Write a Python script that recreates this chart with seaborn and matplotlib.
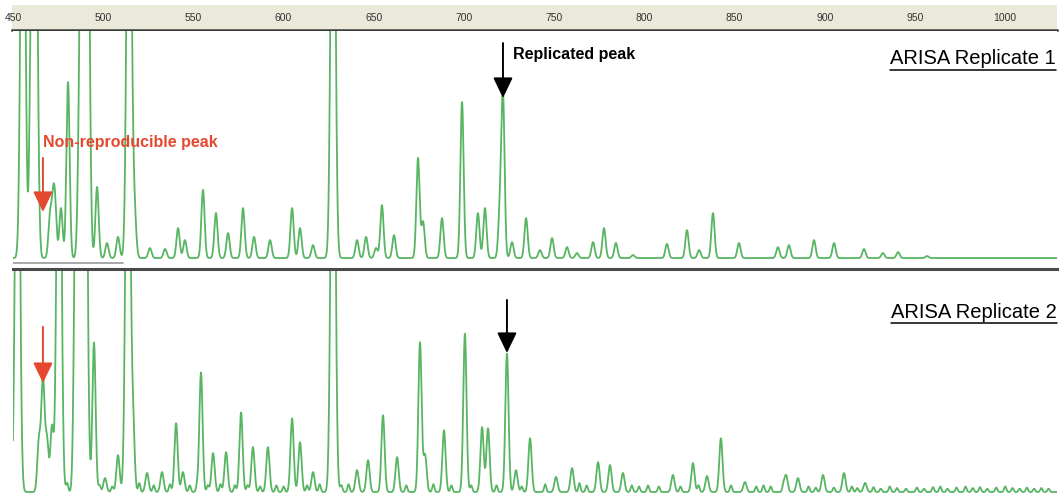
import numpy as np
import pandas as pd
import matplotlib
matplotlib.use("Agg")
import matplotlib.pyplot as plt
import seaborn as sns
from matplotlib.lines import Line2D

# fragment sizes (bp) and peak heights
# heights: 1000 = top of the panel, anything above is off scale
rep1_size = [455.5, 460.0, 462.2, 470.5, 472.2, 473.3, 476.6, 480.5, 486.6, 487.7,
             488.8, 491.0, 496.6, 502.1, 508.2, 514.3, 516.5, 517.6, 525.9, 534.3,
             541.5, 545.3, 555.3, 562.5, 569.2, 577.5, 583.6, 592.5, 604.7, 609.1,
             616.3, 627.4, 640.7, 645.7, 651.2, 654.5, 661.2, 674.5, 677.3, 687.8,
             698.9, 707.7, 711.6, 719.9, 721.6, 726.6, 734.4, 742.1, 748.8, 757.1,
             762.6, 771.5, 777.6, 784.2, 793.7, 812.5, 823.6, 830.3, 838.0, 852.4,
             874.0, 880.1, 894.0, 905.1, 921.7, 932.2, 940.6, 956.6]
rep1_height = [2500, 840, 2500, 176, 189, 198, 220, 775, 322, 256,
               2500, 2500, 313, 66, 93, 2500, 159, 132, 44, 40,
               132, 79, 300, 198, 110, 220, 93, 79, 220, 132,
               57, 2500, 79, 93, 44, 233, 101, 440, 159, 176,
               687, 198, 220, 198, 705, 70, 176, 35, 88, 48,
               22, 70, 132, 66, 13, 62, 123, 35, 198, 66,
               48, 57, 79, 66, 40, 22, 26, 9]

rep2_size = [452.5, 464.4, 466.6, 468.8, 471.6, 475.5, 484.4, 486.0, 489.9, 494.9,
             501.0, 508.2, 513.7, 516.5, 524.3, 532.6, 540.4, 544.2, 554.2, 560.9,
             568.1, 576.4, 583.0, 591.3, 604.7, 609.1, 616.3, 627.4, 640.7, 646.8,
             655.1, 662.9, 675.6, 678.4, 688.9, 700.5, 710.0, 713.3, 723.8, 728.8,
             736.6, 751.0, 759.9, 774.3, 780.9, 788.1, 815.8, 826.9, 834.7, 842.4,
             855.7, 878.5, 885.1, 899.0, 910.6, 922.3]
rep2_height = [2500, 234, 505, 234, 293, 2500, 495, 2500, 2500, 676,
               63, 167, 2500, 302, 86, 90, 311, 90, 541, 176,
               180, 360, 203, 203, 333, 225, 90, 2500, 99, 144,
               347, 158, 676, 167, 279, 716, 293, 288, 626, 99,
               243, 68, 108, 135, 122, 86, 77, 131, 72, 243,
               45, 77, 63, 77, 86, 41]

# the small wiggles along the replicate 2 baseline
rep2_minor_size = [480, 498, 505, 520, 528, 537, 548, 552, 558, 565, 573, 580, 587,
                   596, 600, 613, 620, 632, 636, 668, 683, 693, 704, 718, 732, 745,
                   764, 768, 793, 797, 802, 808, 820, 830, 848, 862, 866, 870, 877,
                   891, 895, 905, 915, 918, 927, 931, 936, 940, 945, 951, 955, 960,
                   964, 968, 973, 978, 982, 986, 990, 995, 1000, 1004, 1008, 1012,
                   1016, 1020, 1024]
rep2_minor_height = [40, 30, 25, 40, 30, 35, 30, 25, 30, 35, 30, 30, 25,
                     30, 25, 30, 35, 30, 35, 30, 35, 30, 30, 30, 25, 35,
                     40, 30, 30, 25, 30, 25, 25, 30, 30, 25, 30, 25, 25,
                     25, 20, 20, 25, 18, 22, 15, 25, 18, 15, 20, 15, 22,
                     25, 15, 20, 25, 18, 22, 15, 20, 25, 18, 15, 20,
                     15, 18, 15]

ruler_ticks = [450, 500, 550, 600, 650, 700, 750, 800, 850, 900, 950, 1000]

GREEN = "#58b562"
RED = "#e4492f"
W, H = 1061, 497
X0, X1 = 450, 1028.7


def trace(sizes, heights, grid, width=0.9):
    y = np.zeros_like(grid)
    for s, h in zip(sizes, heights):
        w = width * 1.3 if h > 1000 else width
        y += h * np.exp(-0.5 * ((grid - s) / w) ** 2)
    return y


def box(x0, y0, x1, y1):
    # pixel box (top-left origin) -> figure fraction rect
    return [x0 / W, 1 - y1 / H, (x1 - x0) / W, (y1 - y0) / H]


grid = np.arange(449, 1030, 0.05)
df1 = pd.DataFrame({"size": grid, "rfu": trace(rep1_size, rep1_height, grid)})
df2 = pd.DataFrame({"size": grid,
                    "rfu": trace(rep2_size, rep2_height, grid)
                    + trace(rep2_minor_size, rep2_minor_height, grid, width=0.6)})

sns.set_style("white")
fig = plt.figure(figsize=(W / 100, H / 100), dpi=100)

narrow = ["Liberation Sans Narrow", "Liberation Sans", "DejaVu Sans"]

# ruler on top
axr = fig.add_axes(box(12, 5, 1057, 30))
axr.set_facecolor("#ebe9da")
axr.set_xlim(X0 - 1 / 1.804, X1)
axr.set_ylim(0, 1)
axr.set_yticks([])
axr.set_xticks(ruler_ticks)
axr.set_xticklabels([str(t) for t in ruler_ticks], fontsize=7.5, color="#333333",
                    family=narrow)
axr.tick_params(axis="x", direction="in", length=3, width=1, color="#333333", pad=-12.5)
for s in ["top", "left", "right"]:
    axr.spines[s].set_visible(False)
axr.spines["bottom"].set_color("#3c3c3c")
axr.spines["bottom"].set_linewidth(1.8)

ax1 = fig.add_axes(box(13, 31, 1057, 266))
ax2 = fig.add_axes(box(13, 269, 1057, 497))

sns.lineplot(data=df1, x="size", y="rfu", ax=ax1, color=GREEN, lw=1.3,
             estimator=None, sort=False)
sns.lineplot(data=df2, x="size", y="rfu", ax=ax2, color=GREEN, lw=1.3,
             estimator=None, sort=False)

ax1.set_ylim(-35, 1000)
ax2.set_ylim(-22.6, 1009)
for ax in (ax1, ax2):
    ax.set_xlim(X0, X1)
    ax.set_xticks([])
    ax.set_yticks([])
    ax.set_xlabel("")
    ax.set_ylabel("")
    for s in ["top", "bottom", "left", "right"]:
        ax.spines[s].set_visible(False)
ax2.spines["top"].set_visible(True)
ax2.spines["top"].set_color("#4a4a4a")
ax2.spines["top"].set_linewidth(2.2)
ax1.axhline(-22, xmin=0, xmax=110 / 1044, color="#9a9a9a", lw=1.2)

# arrows pointing at the peaks
arrow = "-|>,head_length=1.25,head_width=0.6"
ax1.annotate("", xy=(721.6, 705), xytext=(721.6, 947),
             arrowprops=dict(arrowstyle=arrow, color="black", lw=1.4,
                             shrinkA=0, shrinkB=0, mutation_scale=10))
ax1.annotate("", xy=(466.6, 203), xytext=(466.6, 441),
             arrowprops=dict(arrowstyle=arrow, color=RED, lw=1.4,
                             shrinkA=0, shrinkB=0, mutation_scale=10))
ax2.annotate("", xy=(723.8, 629), xytext=(723.8, 869),
             arrowprops=dict(arrowstyle=arrow, color="black", lw=1.4,
                             shrinkA=0, shrinkB=0, mutation_scale=10))
ax2.annotate("", xy=(466.6, 493), xytext=(466.6, 747),
             arrowprops=dict(arrowstyle=arrow, color=RED, lw=1.4,
                             shrinkA=0, shrinkB=0, mutation_scale=10))

fig.text(513 / W, 1 - 55 / H, "Replicated peak", fontsize=11.5, fontweight="bold",
         color="black", ha="left", va="center", family=narrow)
fig.text(43 / W, 1 - 142 / H, "Non-reproducible peak", fontsize=11.5, fontweight="bold",
         color=RED, ha="left", va="center", family=narrow)

t1 = fig.text(1056 / W, 1 - 59 / H, "ARISA Replicate 1", fontsize=14.5,
              color="black", ha="right", va="center", family=["Liberation Sans", "DejaVu Sans"])
t2 = fig.text(1057 / W, 1 - 312 / H, "ARISA Replicate 2", fontsize=14.5,
              color="black", ha="right", va="center", family=["Liberation Sans", "DejaVu Sans"])

# underline the replicate titles
fig.canvas.draw()
for t in (t1, t2):
    bb = t.get_window_extent()
    y = (bb.y0 - 1.0) / H
    fig.add_artist(Line2D([bb.x0 / W, bb.x1 / W], [y, y], color="black", lw=1.1))

fig.savefig("out.png", dpi=100)
